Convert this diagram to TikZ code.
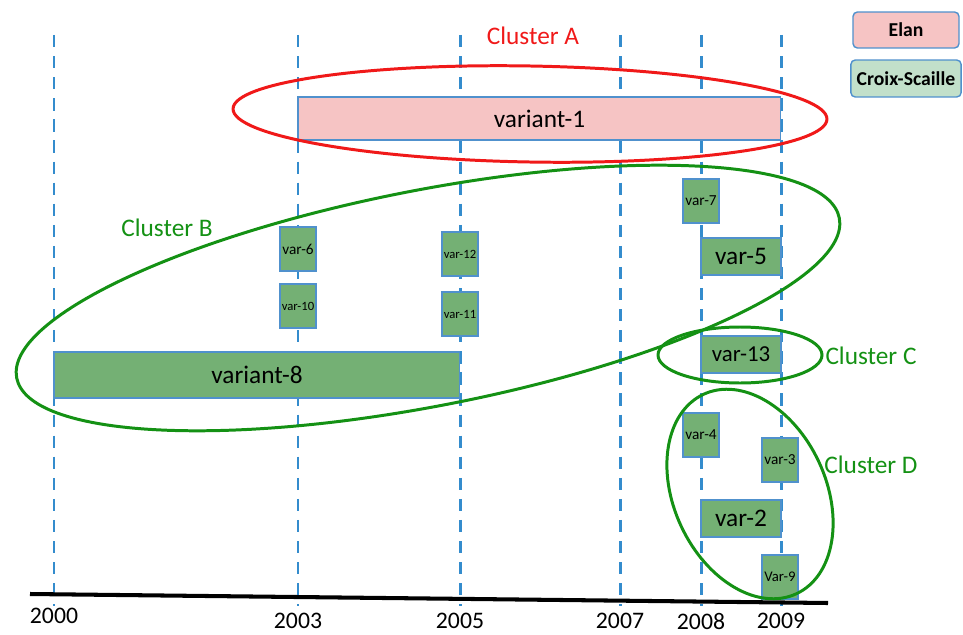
\documentclass[tikz,border=0pt]{standalone}
\usepackage{fontspec}
\setmainfont{Carlito}
\usepackage{xcolor}
\usepackage{tikz}

\definecolor{gridblue}{RGB}{52,140,205}
\definecolor{edgeblue}{RGB}{80,145,205}
\definecolor{elanpink}{RGB}{246,196,196}
\definecolor{croixgreen}{RGB}{116,176,116}
\definecolor{legendgreen}{RGB}{194,224,202}
\definecolor{clustergreen}{RGB}{20,145,20}
\definecolor{clusterred}{RGB}{240,25,25}

\begin{document}
\begin{tikzpicture}[
	x=0.02cm, y=-0.02cm,
	yearline/.style={gridblue,line width=1.7pt,dash pattern=on 7pt off 5pt},
	yearlabel/.style={inner sep=0pt,font=\fontsize{13.5}{15}\selectfont},
	bar/.style={rectangle,anchor=north west,draw=edgeblue,line width=0.6pt,inner sep=0pt,outer sep=0pt},
	elanbar/.style={bar,fill=elanpink},
	croixbar/.style={bar,fill=croixgreen},
	widebox/.style={croixbar,minimum width=1.6cm,minimum height=0.74cm,font=\fontsize{14.4}{16}\selectfont},
	smallbox/.style={croixbar,minimum width=0.72cm,minimum height=0.88cm,font=\fontsize{8.7}{10}\selectfont},
	clusterlabel/.style={font=\fontsize{14.4}{16}\selectfont},
	cluster/.style={line width=1.7pt},
	legendbox/.style={rectangle,draw=edgeblue,line width=0.8pt,rounded corners=2.5pt,minimum width=2.12cm,font=\bfseries\fontsize{11.2}{13}\selectfont}
]
	\useasboundingbox (0,0) rectangle (963,635);

	% time grid
	\foreach \yr/\xx/\yy in {2000/54/616,2003/298/621,2005/460/621,2007/620/621,2008/701/621,2009/781/621}{
		\draw[yearline] (\xx,35) -- (\xx,606);
		\node[yearlabel] (y\yr) at (\xx,\yy) {\yr};
	}
	\draw[line width=2.3pt] (30,594) -- (828,603);

	% variants
	\node[elanbar,minimum width=9.66cm,minimum height=0.86cm,font=\fontsize{14.4}{16}\selectfont] (v1) at (298,97) {variant-1};
	\node[croixbar,minimum width=8.12cm,minimum height=0.92cm,font=\fontsize{14.4}{16}\selectfont] (v8) at (54,352) {variant-8};
	\node[widebox] (v5) at (701,238) {var-5};
	\node[widebox,font=\fontsize{13}{15}\selectfont] (v13) at (701,336) {var-13};
	\node[widebox] (v2) at (701,500) {var-2};
	\node[smallbox] (v6) at (280,227) {var-6};
	\node[smallbox,font=\fontsize{7.2}{9}\selectfont] (v10) at (280,284) {var-10};
	\node[smallbox,font=\fontsize{7.2}{9}\selectfont] (v12) at (442,232) {var-12};
	\node[smallbox,font=\fontsize{7.2}{9}\selectfont] (v11) at (442,292) {var-11};
	\node[smallbox] (v7) at (683,179) {var-7};
	\node[smallbox] (v4) at (683,413) {var-4};
	\node[smallbox] (v3) at (762,438) {var-3};
	\node[smallbox,font=\fontsize{8.4}{10}\selectfont] (v9) at (762,555) {Var-9};

	% clusters
	\draw[cluster,clusterred,rotate around={-1:(530,114)}] (530,114) ellipse [x radius=297,y radius=48];
	\draw[cluster,clustergreen,rotate around={11:(428,298)}] (428,298) ellipse [x radius=419,y radius=108];
	\draw[cluster,clustergreen] (740,355) ellipse [x radius=82,y radius=28];
	\draw[cluster,clustergreen,rotate around={-65:(750,494)}] (750,494) ellipse [x radius=110,y radius=76];
	\node[clusterlabel,clusterred] (ca) at (533,36) {Cluster A};
	\node[clusterlabel,clustergreen] (cb) at (167,228) {Cluster B};
	\node[clusterlabel,clustergreen] (cc) at (871,356) {Cluster C};
	\node[clusterlabel,clustergreen] (cd) at (871,465) {Cluster D};

	% legend
	\node[legendbox,fill=elanpink,minimum height=0.72cm] (elan) at (906,30) {Elan};
	\node[legendbox,fill=legendgreen,minimum height=0.74cm] (croix) at (906,78.5) {Croix-Scaille};
\end{tikzpicture}
\end{document}
